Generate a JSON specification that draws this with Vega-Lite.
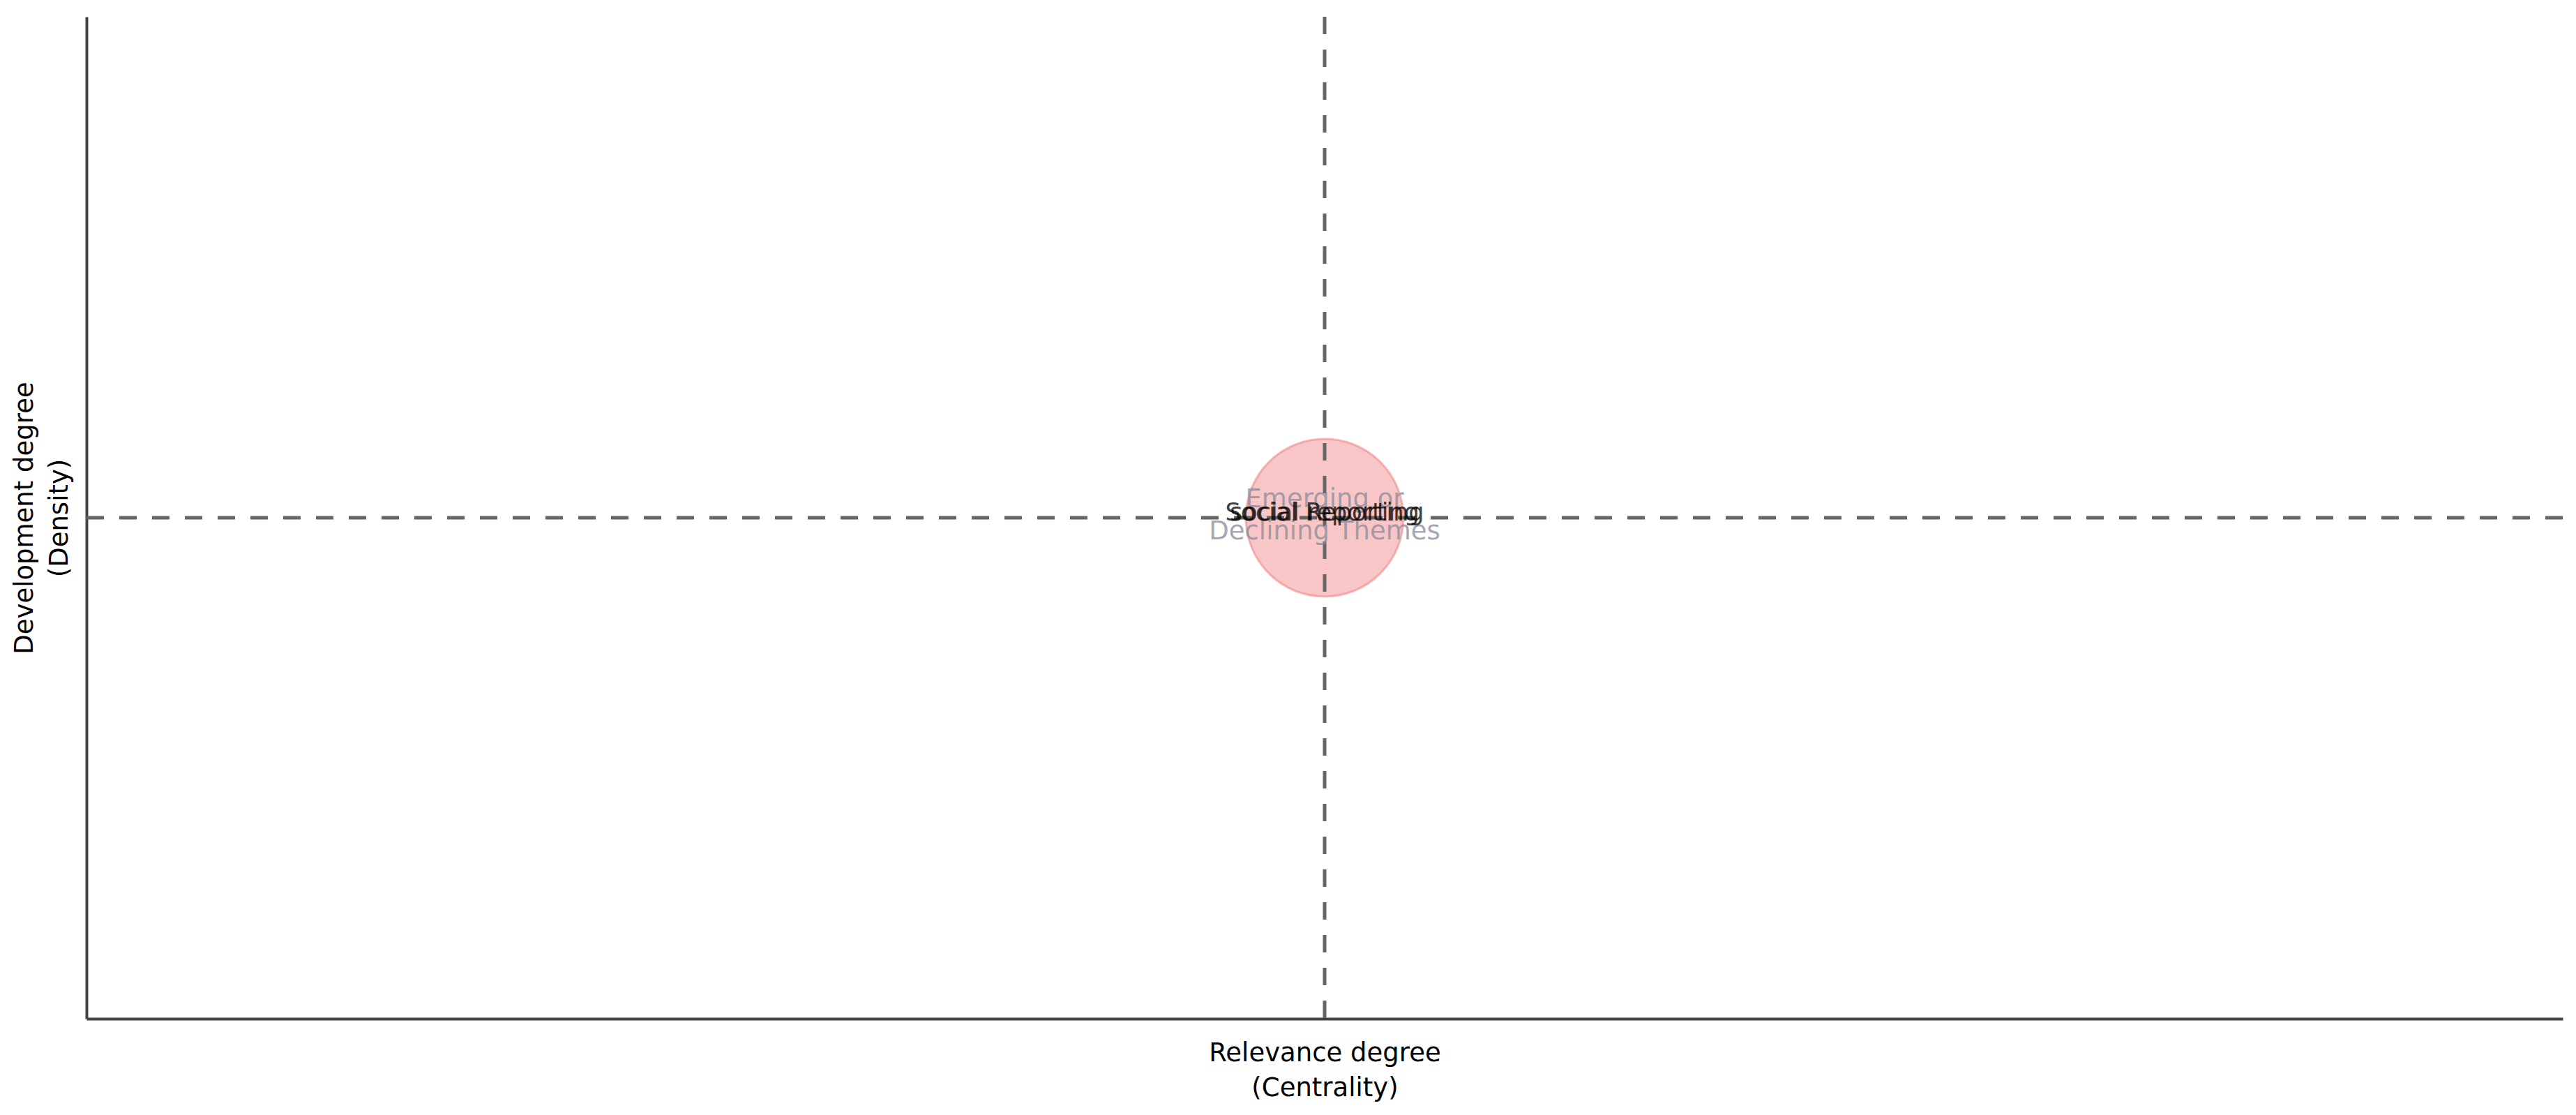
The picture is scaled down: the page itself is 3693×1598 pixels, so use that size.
{
  "$schema": "https://vega.github.io/schema/vega-lite/v6.json",
  "width": 3550,
  "height": 1436,
  "autosize": "none",
  "padding": {"left": 124, "top": 24, "right": 19, "bottom": 138},
  "background": "white",
  "config": {"view": {"stroke": null}, "font": "DejaVu Sans"},
  "layer": [
    {
      "data": {"values": [{"theme": "Social Reporting", "centrality": 0, "density": 0}]},
      "mark": {"type": "circle", "size": 51000, "fill": "#f08080", "fillOpacity": 0.45, "stroke": "#f08080", "strokeOpacity": 0.55, "strokeWidth": 3, "opacity": 1},
      "encoding": {
        "x": {"field": "centrality", "type": "quantitative", "scale": {"domain": [-1, 1]},
          "axis": {"title": ["Relevance degree", "(Centrality)"], "ticks": false, "labels": false, "grid": false, "domainColor": "#444444", "domainWidth": 4, "titleFontSize": 37, "titleFontWeight": "normal", "titleColor": "#000000", "titleFont": "DejaVu Sans", "titleBaseline": "alphabetic", "titlePadding": 60, "titleLineHeight": 50}},
        "y": {"field": "density", "type": "quantitative", "scale": {"domain": [-1, 1]},
          "axis": {"title": ["Development degree", "(Density)"], "ticks": false, "labels": false, "grid": false, "domainColor": "#444444", "domainWidth": 4, "titleFontSize": 37, "titleFontWeight": "normal", "titleColor": "#000000", "titleFont": "DejaVu Sans", "titlePadding": 20, "titleLineHeight": 50}}
      }
    },
    {
      "data": {"values": [{"ref": 0}]},
      "mark": {"type": "rule", "color": "#666666", "strokeWidth": 5, "strokeDash": [25, 22]},
      "encoding": {"x": {"field": "ref", "type": "quantitative"}}
    },
    {
      "data": {"values": [{"ref": 0}]},
      "mark": {"type": "rule", "color": "#666666", "strokeWidth": 5, "strokeDash": [25, 22]},
      "encoding": {"y": {"field": "ref", "type": "quantitative"}}
    },
    {
      "data": {"values": [{"quadrant": "Emerging or\nDeclining Themes", "qx": 0, "qy": 0}]},
      "mark": {"type": "text", "lineBreak": "\n", "fontSize": 37, "font": "DejaVu Sans", "color": "#8a8a9a", "opacity": 0.75, "align": "center", "baseline": "alphabetic", "dy": -15, "lineHeight": 46},
      "encoding": {
        "x": {"field": "qx", "type": "quantitative"},
        "y": {"field": "qy", "type": "quantitative"},
        "text": {"field": "quadrant", "type": "nominal"}
      }
    },
    {
      "data": {"values": [
        {"label": "Social Reporting", "lx": 0, "ly": 0},
        {"label": "social reporting", "lx": 0, "ly": 0}
      ]},
      "mark": {"type": "text", "fontSize": 35, "font": "DejaVu Sans", "color": "#000000", "opacity": 0.75, "align": "center", "baseline": "alphabetic", "dy": 4},
      "encoding": {
        "x": {"field": "lx", "type": "quantitative"},
        "y": {"field": "ly", "type": "quantitative"},
        "text": {"field": "label", "type": "nominal"}
      }
    }
  ]
}
